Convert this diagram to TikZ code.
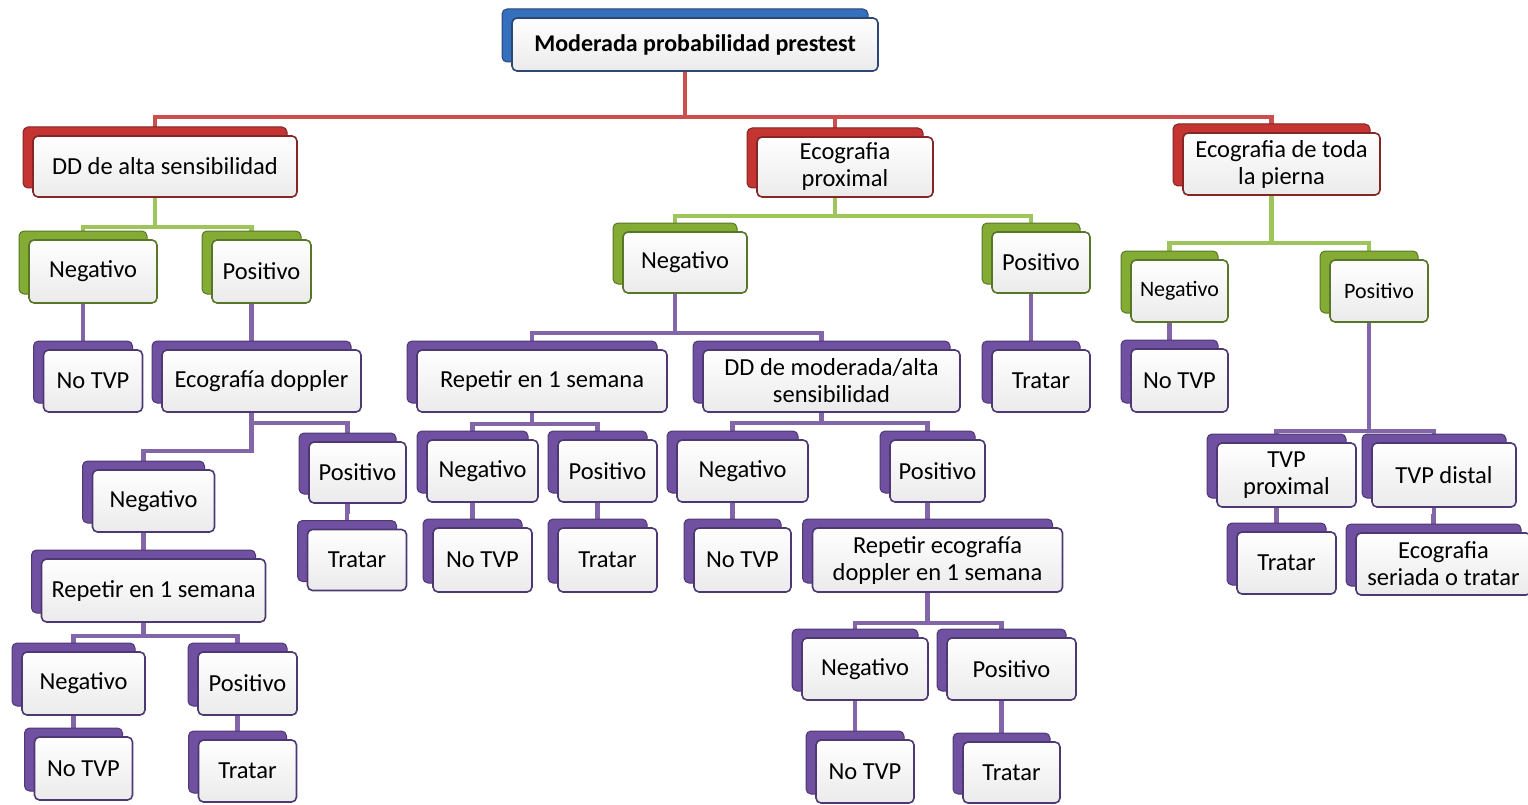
\documentclass[tikz,border=0pt]{standalone}
\usepackage{fontspec}
\setmainfont{Carlito}
\usetikzlibrary{
    shadows,
    backgrounds,
    positioning
}
\definecolor{blueback}{RGB}{52,112,190}
\definecolor{blueedge}{RGB}{45,70,115}
\definecolor{redback}{RGB}{196,52,50}
\definecolor{rededge}{RGB}{130,38,38}
\definecolor{redlink}{RGB}{205,78,76}
\definecolor{greenback}{RGB}{132,172,52}
\definecolor{greenedge}{RGB}{88,118,40}
\definecolor{greenlink}{RGB}{158,196,92}
\definecolor{purpleback}{RGB}{112,80,160}
\definecolor{purpleedge}{RGB}{78,56,115}
\definecolor{purplelink}{RGB}{130,102,168}

\begin{document}
\begin{tikzpicture}[x=1pt, y=-1pt,
    box/.style={rounded corners=5pt, line width=1.6pt, top color=white,
        bottom color=gray!16, align=center, inner sep=0pt,
        font=\fontsize{24.5}{27}\selectfont},
    boxsize/.style 2 args={minimum width=#1pt, minimum height=#2pt},
    bluebox/.style={box, draw=blueedge, copy shadow={shadow xshift=-10pt,
        shadow yshift=9pt, fill=blueback, draw=blueedge, line width=1pt}},
    redbox/.style={box, draw=rededge, copy shadow={shadow xshift=-10pt,
        shadow yshift=9pt, fill=redback, draw=rededge, line width=1pt}},
    greenbox/.style={box, draw=greenedge, copy shadow={shadow xshift=-10pt,
        shadow yshift=9pt, fill=greenback, draw=greenedge, line width=1pt}},
    purplebox/.style={box, draw=purpleedge, copy shadow={shadow xshift=-10pt,
        shadow yshift=9pt, fill=purpleback, draw=purpleedge, line width=1pt}},
    small/.style={font=\fontsize{22}{26}\selectfont},
    redline/.style={draw=redlink, line width=4.5pt},
    greenline/.style={draw=greenlink, line width=4.5pt},
    purpleline/.style={draw=purplelink, line width=4.5pt}
]
\useasboundingbox (0,0) rectangle (1528,805);

% root
\node[bluebox, boxsize={366}{53}, font=\fontsize{24}{27}\selectfont\bfseries] (root) at (695,44.5) {Moderada probabilidad prestest};

% first level
\node[redbox, boxsize={264}{61}] (ddA) at (165,166.5) {DD de alta sensibilidad};
\node[redbox, boxsize={176}{60}] (ecoB) at (845,167) {Ecografia\\proximal};
\node[redbox, boxsize={197}{62}] (ecoC) at (1281.5,164) {Ecografia de toda\\la pierna};

% left branch
\node[greenbox, boxsize={128}{63}] (negA) at (93,271.5) {Negativo};
\node[greenbox, boxsize={99}{63}] (posA) at (261.5,271.5) {Positivo};
\node[purplebox, boxsize={99}{62}] (notvpA) at (93,381) {No TVP};
\node[purplebox, boxsize={199}{62}] (ecodopA) at (261.5,381) {Ecografía doppler};
\node[purplebox, boxsize={97}{61}] (posAA) at (357.5,472.5) {Positivo};
\node[purplebox, boxsize={99}{61}] (tratarAA) at (357,560) {Tratar};
\node[purplebox, boxsize={122}{62}] (negAA) at (153.5,501) {Negativo};
\node[purplebox, boxsize={224}{63}] (repA) at (153.5,590.5) {Repetir en 1 semana};
\node[purplebox, boxsize={123}{63}] (negAAA) at (83.5,683.5) {Negativo};
\node[purplebox, boxsize={99}{63}] (posAAA) at (247.5,683.5) {Positivo};
\node[purplebox, boxsize={98}{63}] (notvpAAA) at (83.5,768.5) {No TVP};
\node[purplebox, boxsize={98}{62}] (tratarAAA) at (247.5,771) {Tratar};

% middle branch
\node[greenbox, boxsize={124}{61}] (negB) at (685,262.5) {Negativo};
\node[greenbox, boxsize={98}{61}] (posB) at (1041,262.5) {Positivo};
\node[purplebox, boxsize={250}{62}] (repB) at (542,381) {Repetir en 1 semana};
\node[purplebox, boxsize={257}{62}] (ddB) at (831.5,381) {DD de moderada/alta\\sensibilidad};
\node[purplebox, boxsize={98}{62}] (tratarB) at (1041,381) {Tratar};
\node[purplebox, boxsize={111}{62}] (negBB) at (482.5,471) {Negativo};
\node[purplebox, boxsize={99}{62}] (posBB) at (607.5,471) {Positivo};
\node[purplebox, boxsize={99}{64}] (notvpBB) at (482.5,560) {No TVP};
\node[purplebox, boxsize={99}{64}] (tratarBB) at (607.5,560) {Tratar};
\node[purplebox, boxsize={131}{62}] (negBD) at (742.5,471) {Negativo};
\node[purplebox, boxsize={95}{62}] (posBD) at (937.5,471) {Positivo};
\node[purplebox, boxsize={97}{64}] (notvpBD) at (742.5,560) {No TVP};
\node[purplebox, boxsize={250}{64}] (repecoBD) at (937.5,560) {Repetir ecografía\\doppler en 1 semana};
\node[purplebox, boxsize={126}{62}] (negBE) at (865,669) {Negativo};
\node[purplebox, boxsize={129}{62}] (posBE) at (1011.5,669) {Positivo};
\node[purplebox, boxsize={98}{63}] (notvpBE) at (865,771.5) {No TVP};
\node[purplebox, boxsize={97}{61}] (tratarBE) at (1011.5,772.5) {Tratar};

% right branch
\node[greenbox, small, boxsize={97}{62}] (negC) at (1179.5,291) {Negativo};
\node[greenbox, small, boxsize={98}{62}] (posC) at (1379,291) {Positivo};
\node[purplebox, boxsize={97}{63}] (notvpC) at (1179.5,380.5) {No TVP};
\node[purplebox, boxsize={139}{64}] (tvpproxC) at (1286.5,475) {TVP\\proximal};
\node[purplebox, boxsize={144}{64}] (tvpdistC) at (1444,475) {TVP distal};
\node[purplebox, boxsize={99}{62}] (tratarC) at (1286.5,563) {Tratar};
\node[purplebox, boxsize={175}{62}] (ecoserC) at (1443.5,564) {Ecografia\\seriada o tratar};

% connectors
\begin{scope}[on background layer]
\foreach \c in {ddA,ecoB,ecoC}
    \draw[redline] ([xshift=-10pt]root.south) -- ++(0,45) -| ([xshift=-10pt]\c.north);
\foreach \p/\h/\c in {ddA/29/negA, ddA/29/posA, ecoB/18/negB, ecoB/18/posB,
        ecoC/47/negC, ecoC/47/posC}
    \draw[greenline] ([xshift=-10pt]\p.south) -- ++(0,\h) -| ([xshift=-10pt]\c.north);
\foreach \p/\h/\c in {negA/8/notvpA, posA/8/ecodopA, ecodopA/10/posAA, ecodopA/38/negAA,
        posAA/8/tratarAA, negAA/8/repA, repA/13/negAAA, repA/13/posAAA,
        negAAA/8/notvpAAA, posAAA/8/tratarAAA,
        negB/39/repB, negB/39/ddB, posB/8/tratarB, repB/11/negBB, repB/11/posBB,
        negBB/8/notvpBB, posBB/8/tratarBB, ddB/10/negBD, ddB/10/posBD,
        negBD/8/notvpBD, posBD/8/repecoBD, repecoBD/30/negBE, repecoBD/30/posBE,
        negBE/8/notvpBE, posBE/8/tratarBE,
        negC/8/notvpC, posC/108/tvpproxC, posC/108/tvpdistC,
        tvpproxC/8/tratarC, tvpdistC/8/ecoserC}
    \draw[purpleline] ([xshift=-10pt]\p.south) -- ++(0,\h) -| ([xshift=-10pt]\c.north);
\end{scope}
\end{tikzpicture}
\end{document}
